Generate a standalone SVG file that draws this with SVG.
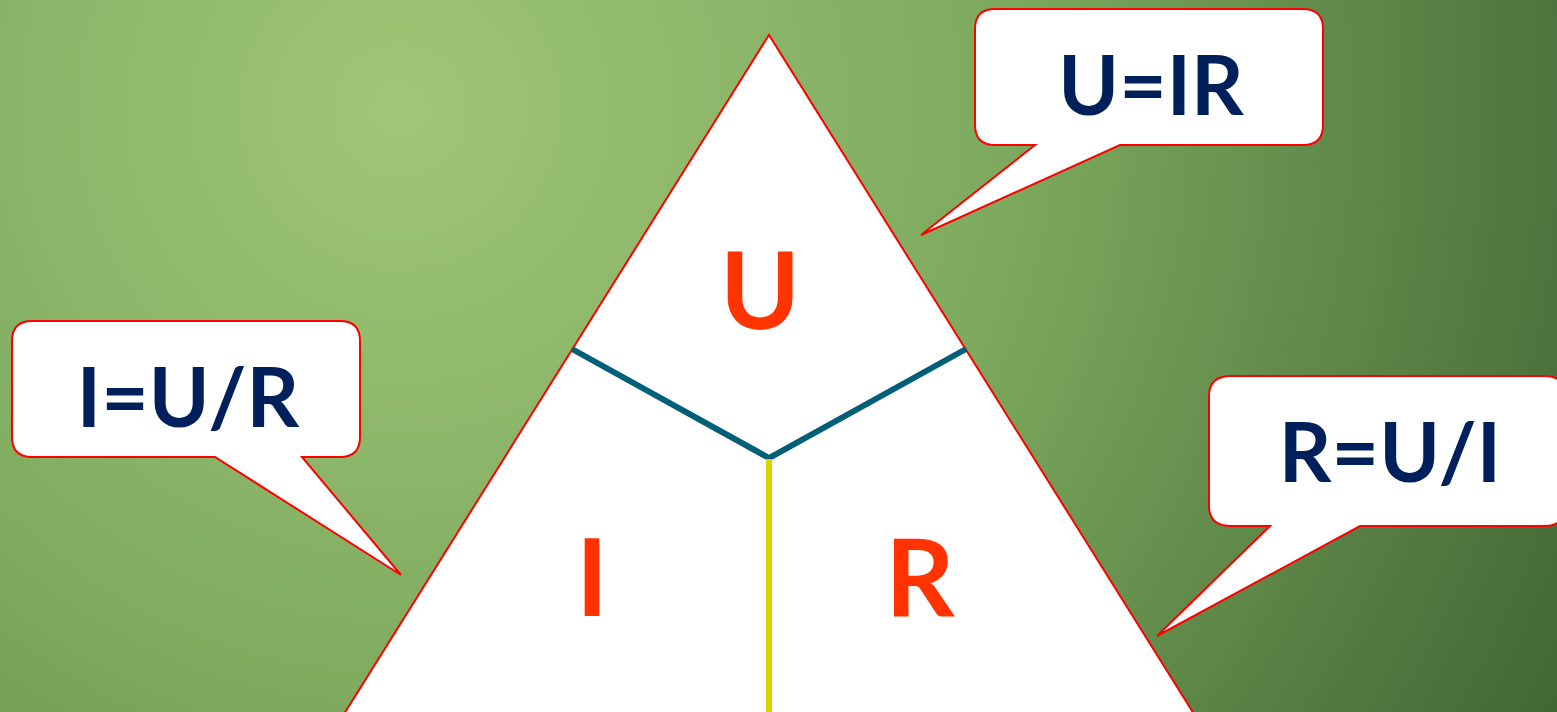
<svg xmlns="http://www.w3.org/2000/svg" width="1557" height="712" viewBox="0 0 1557 712">
<defs>
<radialGradient id="bg" gradientUnits="userSpaceOnUse" cx="400" cy="110" r="1350">
<stop offset="0" stop-color="#a0c677"/>
<stop offset="0.45" stop-color="#7daa5e"/>
<stop offset="1" stop-color="#3d6231"/>
</radialGradient>
<style>
.callout{fill:#ffffff;stroke:#ff0000;stroke-width:2;stroke-linejoin:miter}
.formula{font-family:Lato,"Open Sans",sans-serif;font-weight:700;font-size:82px;fill:#00205b;text-anchor:middle}
.var{font-family:Lato,"Open Sans",sans-serif;font-weight:700;font-size:108px;fill:#ff3300;text-anchor:middle}
</style>
</defs>
<rect width="1557" height="712" fill="url(#bg)"/>
<g id="triangle">
<polygon points="769,35 344,714 1194,714" fill="#ffffff" stroke="#ff0000" stroke-width="2"/>
</g>
<g id="connectors">
<polyline points="572,349 769,458 966,349" fill="none" stroke="#005f78" stroke-width="6"/>
<line x1="769" y1="459" x2="769" y2="712" stroke="#dcd400" stroke-width="6"/>
</g>
<g id="node-U"><text class="var" x="760" y="329">U</text></g>
<g id="node-I"><text class="var" x="592" y="616">I</text></g>
<g id="node-R"><text class="var" x="920" y="616">R</text></g>
<g id="callout-UIR">
<path class="callout" d="M995,9 H1303 Q1323,9 1323,29 V125 Q1323,145 1303,145 H1120 L921,235 L1035,145 H995 Q975,145 975,125 V29 Q975,9 995,9 Z"/>
<text class="formula" x="1151" y="115">U=IR</text>
</g>
<g id="callout-IUR">
<path class="callout" d="M32,321 H340 Q360,321 360,341 V437 Q360,457 340,457 H302 L401,575 L215,457 H32 Q12,457 12,437 V341 Q12,321 32,321 Z"/>
<text class="formula" x="188" y="427">I=U/R</text>
</g>
<g id="callout-RUI">
<path class="callout" d="M1231,376 H1545 Q1565,376 1565,396 V506 Q1565,526 1545,526 H1360 L1157,636 L1270,526 H1231 Q1209,526 1209,506 V396 Q1209,376 1231,376 Z"/>
<text class="formula" x="1390" y="482">R=U/I</text>
</g>
</svg>
